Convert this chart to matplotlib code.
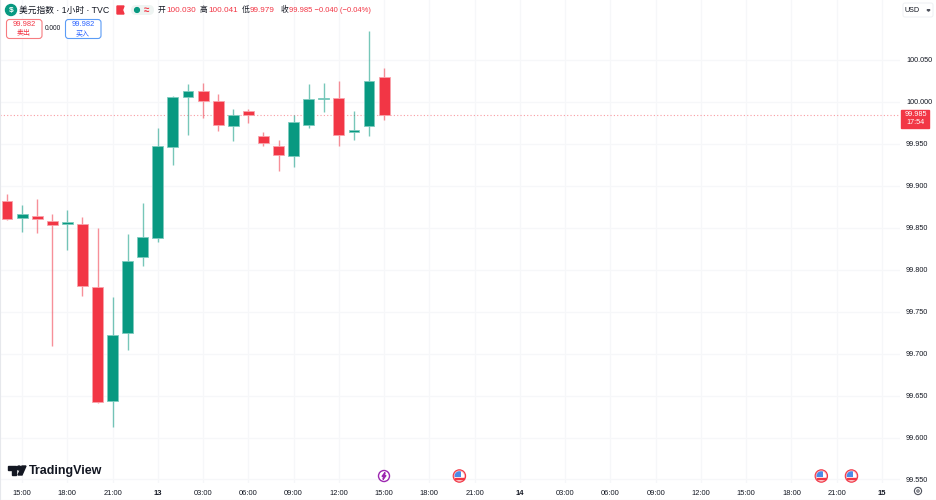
#!/usr/bin/env python3
import matplotlib
matplotlib.use("Agg")
import matplotlib.pyplot as plt
from matplotlib.patches import Circle, FancyBboxPatch, Polygon, Rectangle

FONT = ["Liberation Sans", "Noto Sans CJK SC", "DejaVu Sans"]
plt.rcParams["font.family"] = FONT

RED = "#F23645"
GREEN = "#089981"
BLUE = "#2962FF"
GRID = "#F6F7F9"
TEXT = "#131722"

opens = [99.882, 99.862, 99.864, 99.858, 99.855, 99.855, 99.780, 99.643, 99.724, 99.815,
         99.838, 99.946, 100.006, 100.013, 100.001, 99.971, 99.989, 99.959, 99.948, 99.935,
         99.972, 100.003, 100.005, 99.964, 99.971, 100.030]
highs = [99.890, 99.877, 99.884, 99.866, 99.871, 99.863, 99.850, 99.768, 99.842, 99.880,
         99.969, 100.007, 100.021, 100.023, 100.009, 99.991, 99.992, 99.964, 99.955, 99.984,
         100.021, 100.023, 100.025, 99.989, 100.085, 100.041]
lows = [99.859, 99.845, 99.844, 99.709, 99.824, 99.769, 99.641, 99.613, 99.704, 99.804,
        99.833, 99.925, 99.960, 99.981, 99.965, 99.953, 99.975, 99.948, 99.918, 99.922,
        99.969, 99.988, 99.947, 99.955, 99.959, 99.979]
closes = [99.861, 99.866, 99.860, 99.853, 99.857, 99.781, 99.642, 99.722, 99.811, 99.839,
          99.947, 100.006, 100.013, 100.001, 99.973, 99.984, 99.984, 99.951, 99.937, 99.976,
          100.004, 100.005, 99.960, 99.967, 100.025, 99.985]

time_labels = ["15:00", "18:00", "21:00", "13", "03:00", "06:00", "09:00", "12:00", "15:00", "18:00",
               "21:00", "14", "03:00", "06:00", "09:00", "12:00", "15:00", "18:00", "21:00", "15"]
time_pos = [1 + 3 * i for i in range(len(time_labels))]
bold_labels = ["13", "14", "15"]
price_ticks = [99.55, 99.60, 99.65, 99.70, 99.75, 99.80, 99.85, 99.90, 99.95, 100.00, 100.05]
last_price = 99.985
flag_bars = [30, 54, 56]

fig = plt.figure(figsize=(9.37, 5), dpi=100)
ax = fig.add_axes([0, 17 / 500, 900 / 937, 483 / 500])
ax.set_xlim(-0.464, 59.2)
ax.set_ylim(99.5458, 100.1215)

ax.set_axisbelow(True)
ax.grid(True, color=GRID, linewidth=0.9)
for s in ax.spines.values():
    s.set_visible(False)

# candles
for i in range(len(opens)):
    up = closes[i] >= opens[i]
    c = GREEN if up else RED
    ax.vlines(i, lows[i], highs[i], color=c, linewidth=1, alpha=0.55, zorder=2)
    ax.bar(i, abs(closes[i] - opens[i]), bottom=min(opens[i], closes[i]), width=0.72,
           color=c, edgecolor="#7FCBBF" if up else "#F9A3AB", linewidth=0.6, zorder=3)

ax.axhline(last_price, color=RED, linewidth=0.8, linestyle=(0, (1, 2)), alpha=0.5, zorder=1)

ax.set_xticks(time_pos)
ax.set_xticklabels(time_labels, fontsize=5.4, color=TEXT)
for t in ax.get_xticklabels():
    if t.get_text() in bold_labels:
        t.set_fontweight("bold")
ax.yaxis.tick_right()
ax.set_yticks(price_ticks)
ax.set_yticklabels(["%.3f" % p for p in price_ticks], fontsize=5.2, color=TEXT)
ax.tick_params(axis="both", length=0)
ax.tick_params(axis="x", pad=5)
ax.tick_params(axis="y", pad=4.3)

# overlay in pixels for the header, logo and badges
ov = fig.add_axes([0, 0, 1, 1], zorder=5)
ov.set_xlim(0, 937)
ov.set_ylim(500, 0)
ov.axis("off")
ov.patch.set_alpha(0)

# frame
ov.plot([0, 937], [499.5, 499.5], color="#E6E8EC", lw=0.8)
ov.plot([0.4, 0.4], [0, 500], color="#E6E8EC", lw=0.8)

# header
ov.add_patch(Circle((11, 10), 5.5, color=GREEN))
ov.text(11, 10.2, "$", color="white", fontsize=6, fontweight="bold", ha="center", va="center")
ov.text(19, 10, "美元指数 · 1小时 · TVC", fontsize=6.3, color=TEXT, va="center")
ov.add_patch(Polygon([(117, 6), (124, 6), (122.5, 10), (124, 14), (117, 14)], color=RED))
ov.add_patch(FancyBboxPatch((131, 5), 23, 10, boxstyle="round,pad=0,rounding_size=5", fc="#EEF4F2", ec="none"))
ov.add_patch(Circle((137, 10), 2.4, color=GREEN))
ov.text(147, 10, "≈", fontsize=7, color=RED, ha="center", va="center", fontweight="bold")
ohlc_x = [158, 200, 242, 281]
ohlc_size = [5.9, 5.9, 5.9, 5.5]
for x, lab, val, fs in zip(ohlc_x, ["开", "高", "低", "收"], ["100.030", "100.041", "99.979", "99.985 −0.040 (−0.04%)"], ohlc_size):
    ov.text(x, 10, lab, fontsize=5.6, color=TEXT, va="center")
    ov.text(x + 8, 10, val, fontsize=fs, color=RED, va="center")

ov.add_patch(FancyBboxPatch((6.5, 19.5), 35.5, 19, boxstyle="round,pad=0,rounding_size=3", fc="white", ec="#F77C80", lw=0.8))
ov.text(24, 25, "99.982", fontsize=5.4, color=RED, ha="center", va="center")
ov.text(24, 33.5, "卖出", fontsize=5, color=RED, ha="center", va="center")
ov.text(53, 28.5, "0.000", fontsize=4.7, color=TEXT, ha="center", va="center")
ov.add_patch(FancyBboxPatch((65.5, 19.5), 35.5, 19, boxstyle="round,pad=0,rounding_size=3", fc="white", ec="#5B9CF6", lw=0.8))
ov.text(83, 25, "99.982", fontsize=5.4, color=BLUE, ha="center", va="center")
ov.text(83, 33.5, "买入", fontsize=5, color=BLUE, ha="center", va="center")

# currency box and last price tag
ov.add_patch(FancyBboxPatch((903, 3), 30, 14, boxstyle="round,pad=0,rounding_size=2", fc="white", ec="#EEF0F3", lw=0.7))
ov.text(905, 10, "USD", fontsize=5.2, color=TEXT, va="center")
ov.add_patch(Polygon([(927, 9.7), (930, 9.7), (928.5, 11.2)], color="#50535E"))
ov.add_patch(Rectangle((901, 110), 28, 17.5, color=RED))
ov.text(915.5, 115, "%.3f" % last_price, fontsize=5.2, color="white", ha="center", va="center")
ov.text(915.5, 123, "17:54", fontsize=5.2, color="white", ha="center", va="center")

# logo
ov.add_patch(Polygon([(8, 466), (16.5, 466), (16.5, 475), (12.5, 475), (12.5, 470), (8, 470)], color=TEXT))
ov.add_patch(Circle((19, 468), 2, color=TEXT))
ov.add_patch(Polygon([(22, 466), (26, 466), (22, 475), (18, 475)], color=TEXT))
ov.text(29, 471, "TradingView", fontsize=9, fontweight="bold", color=TEXT, va="center")

# event badges
ov.add_patch(Circle((384, 476), 5.5, fc="white", ec="#9C27B0", lw=1))
ov.add_patch(Polygon([(385, 472.5), (382, 476.5), (384, 476.5), (383, 479.5), (386, 475.5), (384.2, 475.5)], color="#9C27B0"))


def px_x(i):
    return 7 + 15.08 * i


for b in flag_bars:
    cx = px_x(b)
    ov.add_patch(Circle((cx, 476), 6.2, fc="#F8B4B9", ec=RED, lw=0.8))
    ov.add_patch(Circle((cx, 476), 4.8, fc="white", ec="none"))
    ov.add_patch(Rectangle((cx - 4.5, 478), 9, 1.2, color=RED))
    c = Circle((cx, 476), 4.8, fc="#4C8BE8", ec="none")
    ov.add_patch(c)
    c.set_clip_path(Rectangle((cx - 5, 471), 6.5, 6, transform=ov.transData))

# settings gear
ov.add_patch(Circle((918, 491), 3.6, fc="white", ec="#50535E", lw=0.8))
ov.add_patch(Circle((918, 491), 1.2, fc="white", ec="#50535E", lw=0.7))

fig.savefig("out.png", dpi=100)
